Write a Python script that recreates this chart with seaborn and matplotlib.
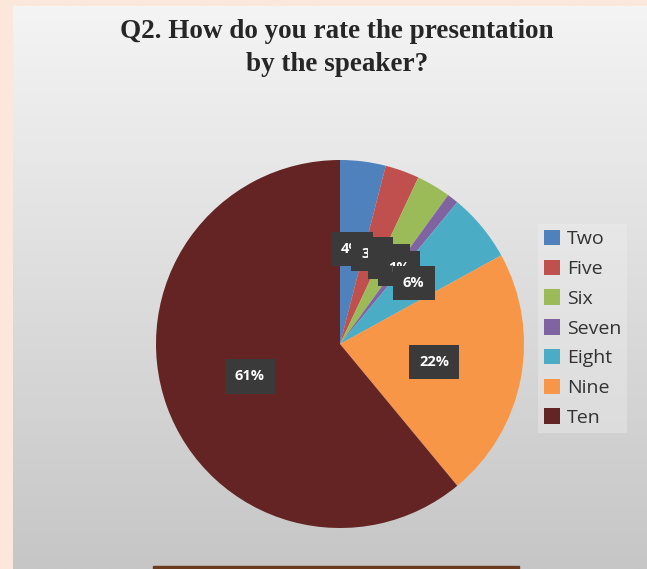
import numpy as np
import matplotlib
matplotlib.use("Agg")
import matplotlib.pyplot as plt
import seaborn as sns

# ratings and their share of answers (%)
ratings = ['Two', 'Five', 'Six', 'Seven', 'Eight', 'Nine', 'Ten']
shares = [4, 3, 3, 1, 6, 22, 61]
colors = ['#4F81BD', '#C0504D', '#9BBB59', '#8064A2', '#4BACC6', '#F79646', '#632423']
title = 'Q2. How do you rate the presentation\nby the speaker?'

sns.set_theme(style="white")
plt.rcParams['font.family'] = ['Open Sans', 'DejaVu Sans']

W, H = 647, 569
fig = plt.figure(figsize=(W / 100, H / 100), dpi=100)
fig.patch.set_facecolor('#FCE8DA')

# grey gradient panel behind the chart
bg = fig.add_axes([13 / W, 0, 1 - 13 / W, 1 - 6 / H])
grad = np.linspace(0, 1, 256).reshape(-1, 1)
bg.imshow(grad, aspect='auto', cmap=sns.blend_palette(['#F4F4F4', '#C6C6C6'], as_cmap=True),
          extent=[0, 1, 0, 1])
bg.axis('off')
# brown strip at the bottom
bg.add_patch(plt.Rectangle(((153 - 13) / (W - 13), 0), (519 - 153) / (W - 13), 3.5 / (H - 6),
                           color='#6A3B1C', transform=bg.transAxes))

cx, cy, r = 340, 344, 184
ax = fig.add_axes([(cx - r) / W, (H - cy - r) / H, 2 * r / W, 2 * r / H])
wedges, texts, autotexts = ax.pie(
    shares, colors=colors, startangle=90, counterclock=False,
    autopct='%1.0f%%', pctdistance=0.52,
    wedgeprops=dict(linewidth=0),
    textprops=dict(color='white', fontsize=10.5, fontweight='bold', family=['Open Sans', 'DejaVu Sans']),
)
for t in autotexts:
    t.set_bbox(dict(boxstyle='square,pad=0.7', facecolor='#3A3A3A', edgecolor='none'))
ax.set_xlim(-1, 1)
ax.set_ylim(-1, 1)
ax.set_aspect('equal')
ax.axis('off')

leg = fig.legend(wedges, ratings, loc='upper left', bbox_to_anchor=(538 / W, 1 - 224 / H),
                 frameon=True, fontsize=14, handlelength=0.85, handleheight=0.85,
                 handletextpad=0.35, labelspacing=0.58, borderpad=0.3, borderaxespad=0)
leg.get_frame().set_facecolor('#F2F2F2')
leg.get_frame().set_alpha(0.35)
leg.get_frame().set_edgecolor('none')
leg.get_frame().set_boxstyle('square', pad=0)
for t in leg.get_texts():
    t.set_color('#333333')

fig.text(337 / W, 1 - 48 / H, title, ha='center', va='center', fontsize=19.5,
         fontweight='bold', family='Liberation Serif', color='#262626', linespacing=1.4)

fig.savefig('out.png', dpi=100, facecolor=fig.get_facecolor())
